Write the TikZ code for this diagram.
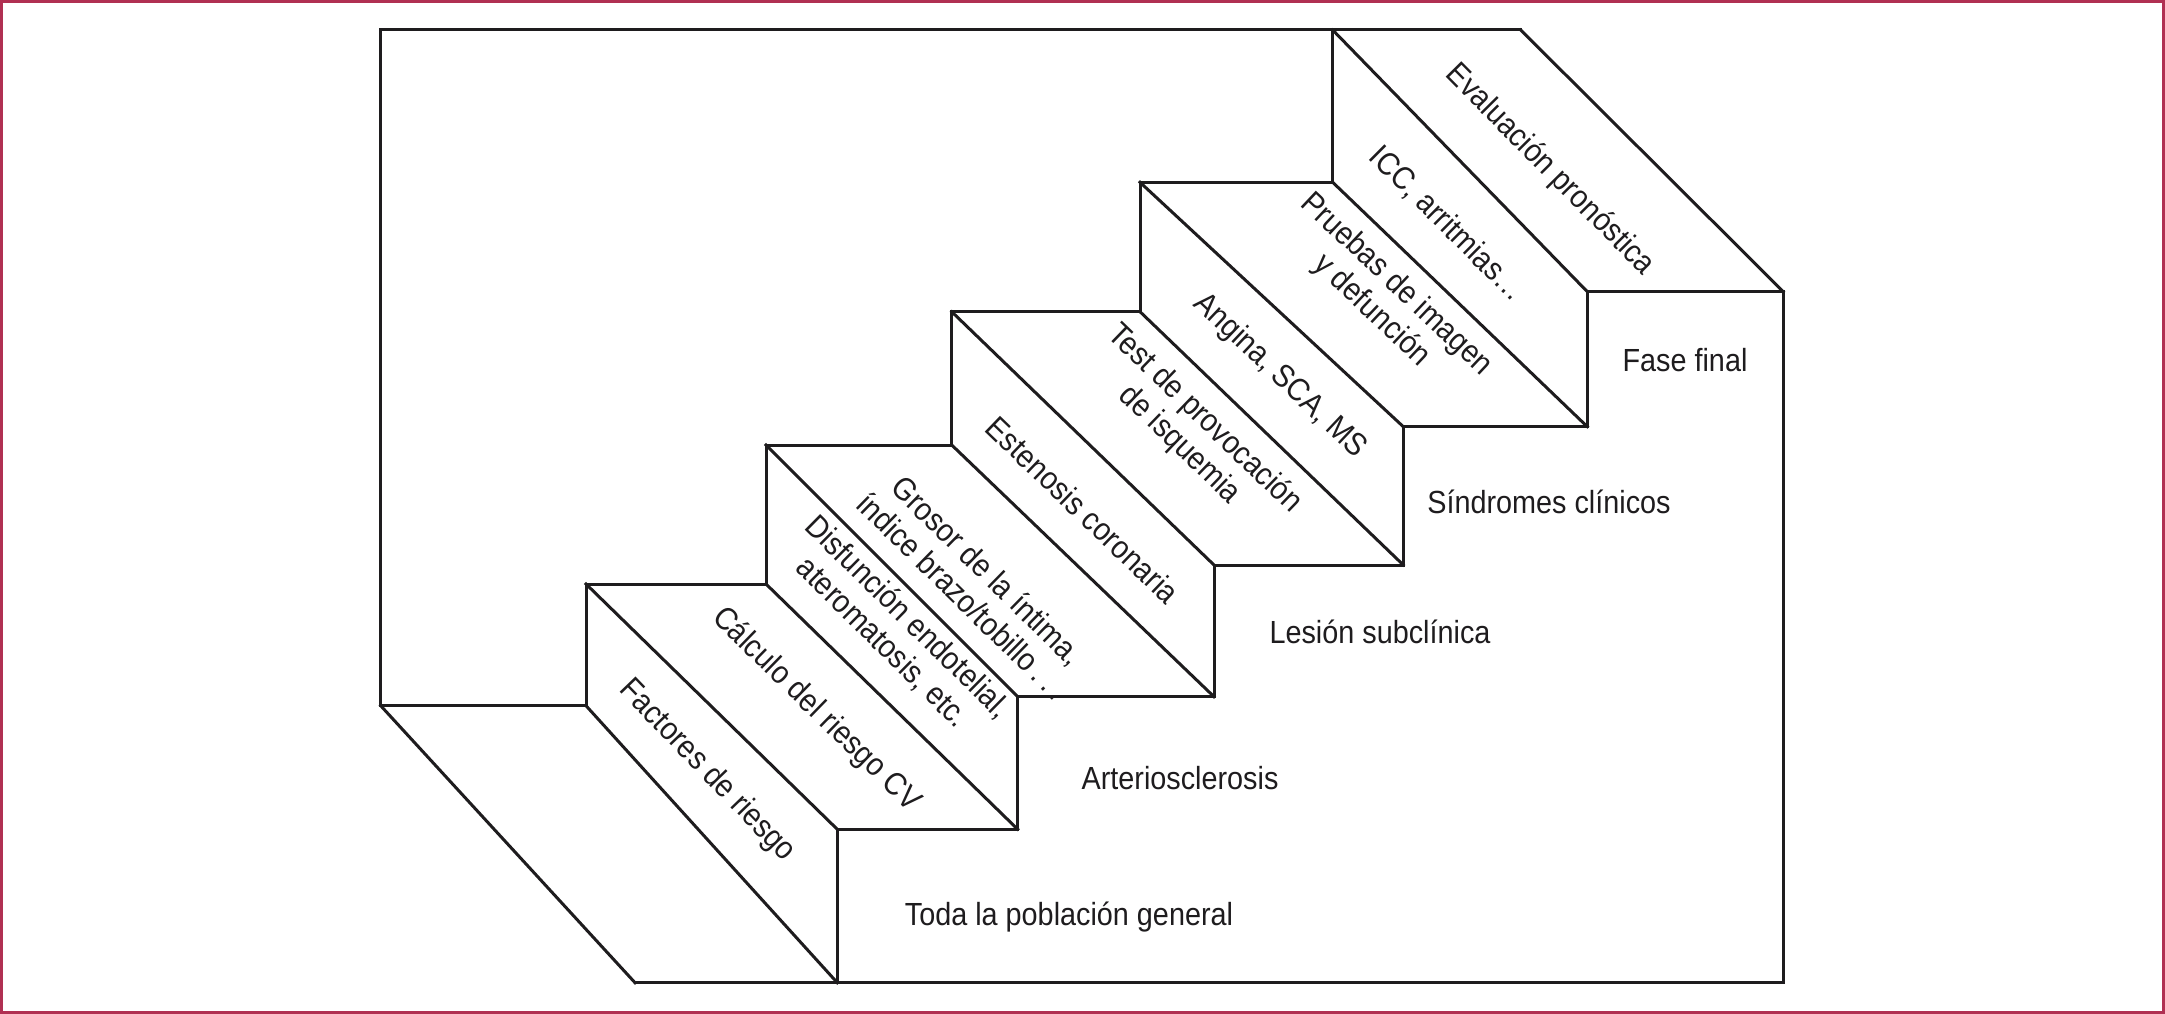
\documentclass[tikz,border=0pt]{standalone}
\usepackage{fontspec}
\setmainfont{Liberation Sans}[FakeStretch=0.9]
\definecolor{ink}{RGB}{30,28,30}
\definecolor{framecol}{RGB}{176,48,82}
\begin{document}
\begin{tikzpicture}[x=1pt,y=-1pt,
  edge/.style={draw=ink, line width=3pt, line join=miter, line cap=rect},
  frameline/.style={draw=framecol, line width=3pt},
  lbl/.style={font=\fontsize{32}{36}\selectfont, text=ink, inner sep=0pt, align=center},
  face/.style={lbl}]
\useasboundingbox (0,0) rectangle (2165,1014);
\draw[frameline] (1.5,1.5) rectangle (2163.5,1012.5);
% back profile
\coordinate (w0) at (380.7,30);
\coordinate (b0) at (380.7,705.7);
\coordinate (p0) at (586,705.7);
\coordinate (p1) at (586,584);
\coordinate (p2) at (766,584);
\coordinate (p3) at (766,445);
\coordinate (p4) at (951.7,445);
\coordinate (p5) at (951.7,311.7);
\coordinate (p6) at (1140,311.7);
\coordinate (p7) at (1140,182.3);
\coordinate (p8) at (1332.7,182.3);
\coordinate (p9) at (1332.7,30);
\coordinate (p10) at (1520.7,30);
% front profile
\coordinate (fb) at (635,982.7);
\coordinate (q0) at (837.3,982.7);
\coordinate (q1) at (837.3,829.3);
\coordinate (q2) at (1017.7,829.3);
\coordinate (q3) at (1017.7,696.7);
\coordinate (q4) at (1214,696.7);
\coordinate (q5) at (1214,565);
\coordinate (q6) at (1403.3,565);
\coordinate (q7) at (1403.3,426.7);
\coordinate (q8) at (1587.3,426.7);
\coordinate (q9) at (1587.3,291.7);
\coordinate (q10) at (1783.3,291.7);
\coordinate (fr) at (1783.3,982.7);
% outlines
\draw[edge] (b0) -- (w0) -- (p10);
\draw[edge] (b0) -- (p0) -- (p1) -- (p2) -- (p3) -- (p4) -- (p5) -- (p6) -- (p7) -- (p8) -- (p9);
\draw[edge] (fb) -- (fr) -- (q10);
\draw[edge] (q0) -- (q1) -- (q2) -- (q3) -- (q4) -- (q5) -- (q6) -- (q7) -- (q8) -- (q9) -- (q10);
% depth edges
\draw[edge] (b0) -- (fb);
\foreach \i in {0,...,10} { \draw[edge] (p\i) -- (q\i); }
% face texts
\node[face, rotate=-45.3] (t10) at (1550,170) {Evaluación pronóstica};
\node[face, rotate=-44.8] (t9) at (1447,224) {ICC, arritmias…};
\node[face, rotate=-43.3] (t8) at (1384,298) {Pruebas de imagen\\y defunción};
\node[face, rotate=-43.4] (t7) at (1280,376) {Angina, SCA, MS};
\node[face, rotate=-44.0] (t6) at (1192,432) {Test de provocación\\de isquemia};
\node[face, rotate=-43.9] (t5) at (1083,510) {Estenosis coronaria};
\node[face, rotate=-44.4] (t4) at (975,583) {Grosor de la íntima,\\índice brazo/tobillo\,.\,.\,.};
\node[face, rotate=-44.6] (t3) at (895,630) {Disfunción endotelial,\\ateromatosis, etc.};
\node[face, rotate=-44.3] (t2) at (816,710) {Cálculo del riesgo CV};
\node[face, rotate=-46.0] (t1) at (707,771) {Factores de riesgo};
% stage labels
\node[lbl, anchor=base] (s5) at (1685,371.7) {Fase final};
\node[lbl, anchor=base] (s4) at (1549,513) {Síndromes clínicos};
\node[lbl, anchor=base] (s3) at (1380,643) {Lesión subclínica};
\node[lbl, anchor=base] (s2) at (1180,789) {Arteriosclerosis};
\node[lbl, anchor=base] (s1) at (1069,925) {Toda la población general};
\end{tikzpicture}
\end{document}
